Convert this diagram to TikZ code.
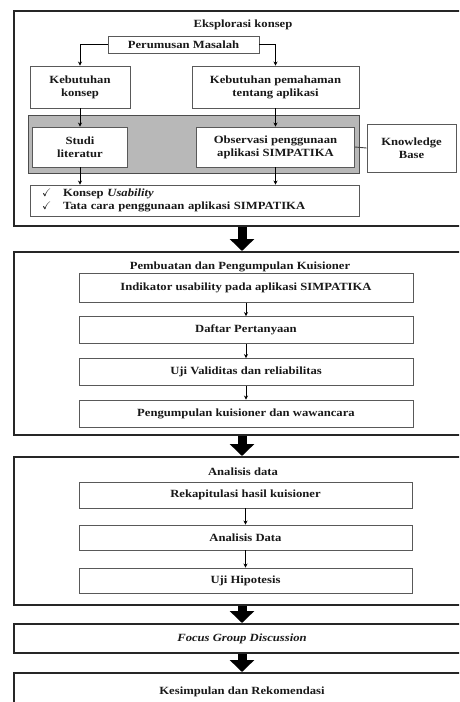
\documentclass[tikz,border=0pt]{standalone}
\usepackage{amssymb}
\usepackage{fontspec}
\setmainfont{Liberation Serif}[FakeStretch=1.15]
\usetikzlibrary{arrows.meta}

\begin{document}
\begin{tikzpicture}[x=1pt,y=-1pt,
	txt/.style={font=\bfseries\fontsize{11}{13}\selectfont, text=black!90, align=center, inner sep=0pt},
	outer/.style={draw=black!85, line width=2pt, minimum width=#1},
	box/.style 2 args={txt, draw=black!65, line width=0.9pt, fill=white, minimum width=#1, minimum height=#2},
	panel/.style 2 args={draw=black!70, line width=1pt, fill=black!28, minimum width=#1, minimum height=#2},
	arr/.style={draw=black, line width=0.8pt, -{Stealth[length=4pt,width=4pt]}},
	bigarr/.style={draw=black, line width=9pt, -{Triangle[length=12pt,width=24pt]}}]
	\clip (0,0) rectangle (459,702);
	\useasboundingbox (0,0) rectangle (459,702);

	\node[outer=456pt, minimum height=215pt] (eks) at (242,118.5) {};
	\node[txt] (t1) at (243,25) {Eksplorasi konsep};
	\node[box={151pt}{17pt}] (pm) at (183.5,44.5) {Perumusan Masalah};
	\node[box={100pt}{42pt}] (kk) at (80,87) {Kebutuhan\\konsep};
	\node[box={167pt}{42pt}] (kp) at (275.5,87) {Kebutuhan pemahaman\\tentang aplikasi};
	\node[panel={331pt}{58pt}] (pnl) at (193.5,144) {};
	\node[box={95pt}{40pt}] (sl) at (80,147) {Studi\\literatur};
	\node[box={158pt}{40pt}] (ob) at (275.5,147) {Observasi penggunaan\\aplikasi SIMPATIKA};
	\node[box={89pt}{48pt}] (kb) at (411.5,148) {Knowledge\\Base};
	\node[box={329pt}{31pt}, align=left, text width=305pt, inner xsep=12pt] (lst) at (194.5,200.5)
		{\makebox[21pt][l]{\mdseries$\checkmark$}Konsep \textit{Usability}\\
		\makebox[21pt][l]{\mdseries$\checkmark$}Tata cara penggunaan aplikasi SIMPATIKA};

	\draw[arr] (pm.west) -| (kk.north);
	\draw[arr] (pm.east) -| (kp.north);
	\draw[arr] (kk.south) -- (sl.north);
	\draw[arr] (kp.south) -- (ob.north);
	\draw[arr] (sl.south) -- (sl.south |- lst.north);
	\draw[arr] (ob.south) -- (ob.south |- lst.north);
	\draw[line width=0.9pt, black!75] (ob.east) -- (kb.west);

	\node[outer=456pt, minimum height=183pt] (pkk) at (242,343.5) {};
	\node[txt] (t2) at (240,267) {Pembuatan dan Pengumpulan Kuisioner};
	\node[box={334pt}{29pt}] (ind) at (246,288) {Indikator usability pada aplikasi SIMPATIKA};
	\node[box={334pt}{27pt}] (daf) at (246,330) {Daftar Pertanyaan};
	\node[box={334pt}{27pt}] (uji) at (246,372) {Uji Validitas dan reliabilitas};
	\node[box={334pt}{27pt}] (pen) at (246,413.5) {Pengumpulan kuisioner dan wawancara};

	\draw[arr] (ind) -- (daf);
	\draw[arr] (daf) -- (uji);
	\draw[arr] (uji) -- (pen);

	\node[outer=456pt, minimum height=148pt] (ana) at (242,531) {};
	\node[txt] (t3) at (243,472) {Analisis data};
	\node[box={333pt}{26pt}] (rek) at (245.5,495) {Rekapitulasi hasil kuisioner};
	\node[box={333pt}{25pt}] (adt) at (245.5,537.5) {Analisis Data};
	\node[box={333pt}{25pt}] (hip) at (245.5,580.5) {Uji Hipotesis};

	\draw[arr] (rek) -- (adt);
	\draw[arr] (adt) -- (hip);

	\node[outer=456pt, minimum height=29pt, txt] (fgd) at (242,638.5) {\textit{Focus Group Discussion}};
	\node[outer=456pt, minimum height=38pt, txt] (kes) at (242,692) {Kesimpulan dan Rekomendasi};

	\draw[bigarr] (eks.south) -- (pkk.north);
	\draw[bigarr] (pkk.south) -- (ana.north);
	\draw[bigarr] (ana.south) -- (fgd.north);
	\draw[bigarr] (fgd.south) -- (kes.north);
\end{tikzpicture}
\end{document}
